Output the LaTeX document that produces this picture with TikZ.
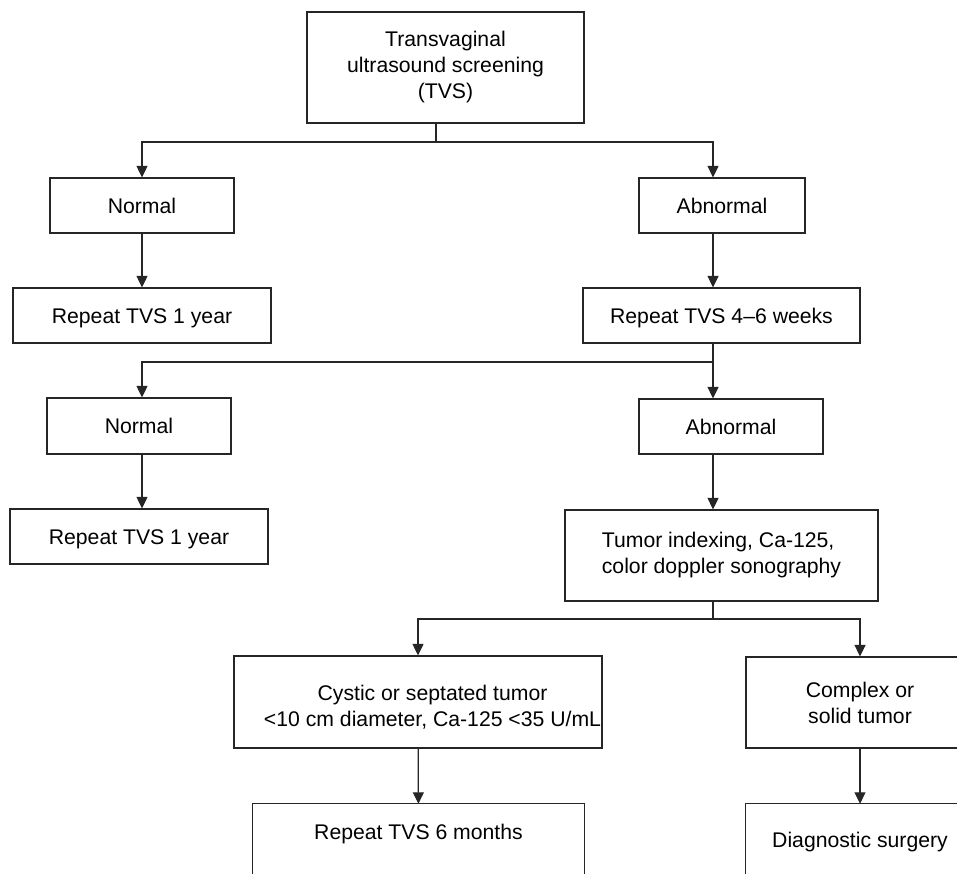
\documentclass[tikz,border=0pt]{standalone}
\usepackage{fontspec}
\setmainfont{Liberation Sans}
\usetikzlibrary{arrows.meta, calc}
\tikzset{
		flow box/.style={draw=black!85, line width=1.25pt, inner sep=0pt, align=center, font=\fontsize{21.2}{26}\selectfont},
		one line/.style={text height=15.2pt, text depth=0pt},
		open box/.style={inner sep=0pt, font=\fontsize{21.2}{26}\selectfont, one line},
		loose text/.style={inner sep=0pt, align=center, font=\fontsize{21.2}{26}\selectfont},
		line/.style={draw=black!85, line width=1.25pt}
	}

\begin{document}
\begin{tikzpicture}[x=1pt, y=-1pt, >={Triangle[length=11.5pt,width=11pt]}]
					\useasboundingbox (0,0) rectangle (957,873);
					\clip (0,0) rectangle (957,873);

					\node[flow box, minimum width=277pt, minimum height=111pt] (tvs) at (445.5,67.5) {Transvaginal\\ultrasound screening\\(TVS)};
					\node[flow box, one line, minimum width=184pt, minimum height=55pt] (norm1) at (142,205.5) {Normal};
					\node[flow box, one line, minimum width=166pt, minimum height=55pt] (abn1)  at (722,205.5) {Abnormal};
					\node[flow box, one line, minimum width=258pt, minimum height=55pt] (rep1)  at (142,315.5) {Repeat TVS 1 year};
					\node[flow box, one line, minimum width=277pt, minimum height=55pt] (rep4)  at (721.5,315.5) {Repeat TVS 4--6 weeks};
					\node[flow box, one line, minimum width=184pt, minimum height=56pt] (norm2) at (139,426) {Normal};
					\node[flow box, one line, minimum width=184pt, minimum height=55pt] (abn2)  at (731,426.5) {Abnormal};
					\node[flow box, one line, minimum width=258pt, minimum height=55pt] (rep2)  at (139,536.5) {Repeat TVS 1 year};
					\node[flow box, align=left, minimum width=313pt, minimum height=91pt] (index) at (721.5,555.5) {Tumor indexing, Ca-125,\\color doppler sonography};
					\node[flow box, minimum width=368pt, minimum height=92pt] (cystic) at (418,702) {};
					\node[loose text] (cystictxt) at (432.5,707) {Cystic or septated tumor\\<10 cm diameter, Ca-125 <35 U/mL};
					\node[flow box, minimum width=228pt, minimum height=91pt] (solid) at (860,702.5) {Complex or\\solid tumor};
					\node[open box, minimum width=331pt, minimum height=55pt] (rep6) at (418.5,831.5) {Repeat TVS 6 months};
					\node[open box, minimum width=228pt, minimum height=72pt] (surg) at (860,840) {Diagnostic surgery};

					% branch points
					\coordinate (j1) at (436,142);
					\coordinate (j2) at (713,362);
					\coordinate (j3) at (713,619);

					\draw[line] (tvs.south -| j1) -- (j1);
					\draw[line,->] (j1) -| (norm1);
					\draw[line,->] (j1) -| (abn1.north -| j2);
					\draw[line,->] (norm1) -- (rep1);
					\draw[line,->] (abn1.south -| j2) -- (rep4.north -| j2);

					\draw[line] (rep4.south -| j2) -- (j2);
					\draw[line,->] (j2) -| (norm2.north -| norm1);
					\draw[line,->] (j2) -- (abn2.north -| j2);
					\draw[line,->] (norm2.south -| norm1) -- (rep2.north -| norm1);
					\draw[line,->] (abn2.south -| j2) -- (index.north -| j2);

					\draw[line] (index.south -| j3) -- (j3);
					\draw[line,->] (j3) -| (cystic);
					\draw[line,->] (j3) -| (solid);
					\draw[line,->] (cystic) -- (rep6);
					\draw[line,->] (solid) -- (surg);

					% boxes cut off at the bottom
					\draw[line] ($(rep6.south west)+(0,40)$) |- (rep6.north east) -- ($(rep6.south east)+(0,40)$);
					\draw[line] ($(surg.south west)+(0,40)$) |- (surg.north east) -- ($(surg.south east)+(0,40)$);
				\end{tikzpicture}
\end{document}
